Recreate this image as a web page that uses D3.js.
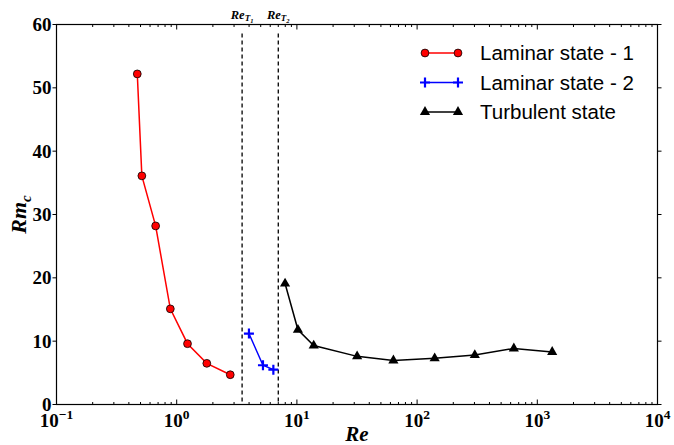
<!DOCTYPE html>
<html>
<head>
<meta charset="utf-8">
<script src="https://cdn.jsdelivr.net/npm/d3@7"></script>
<style>
  body { margin: 0; background: #fff; }
  .tick-label { font-family: "Liberation Serif", "DejaVu Serif", serif; font-weight: bold; fill: #000; }
  .legend-text { font-family: "Liberation Sans", Arial, sans-serif; font-size: 20.5px; fill: #000; }
</style>
</head>
<body>
<div id="chart"></div>
<script>
// data
var lam1Re = [0.47, 0.513, 0.668, 0.885, 1.23, 1.78, 2.79];
var lam1Rm = [52.2, 36.1, 28.2, 15.1, 9.6, 6.5, 4.7];

var lam2Re = [3.99, 5.22, 6.37];
var lam2Rm = [11.2, 6.2, 5.5];

var turbRe = [7.97, 10.2, 13.8, 31.7, 63.5, 140, 302, 638, 1330];
var turbRm = [19.1, 11.8, 9.3, 7.6, 6.95, 7.3, 7.8, 8.85, 8.3];

var transitions = [{name: "T", sub: "1", re: 3.5}, {name: "T", sub: "2", re: 7.0}];

var yTicks = [0, 10, 20, 30, 40, 50, 60];
var xDecades = [-1, 0, 1, 2, 3, 4];

var svgWidth = 674;
var svgHeight = 445;

var margin = { top: 24.5, right: 16.5, bottom: 40.5, left: 56.5 };
var width = svgWidth - margin.left - margin.right;
var height = svgHeight - margin.top - margin.bottom;

var svg = d3.select("#chart")
  .append("svg")
  .attr("width", svgWidth)
  .attr("height", svgHeight);

var chartGroup = svg.append("g")
  .attr("transform", `translate(${margin.left}, ${margin.top})`);

var xScale = d3.scaleLog().domain([0.1, 10000]).range([0, width]);
var yScale = d3.scaleLinear().domain([0, 60]).range([height, 0]);

// minor ticks for log axis
var minorTicks = [];
for (var e = -1; e < 4; e++) {
  for (var m = 2; m <= 9; m++) minorTicks.push(m * Math.pow(10, e));
}
var majorTicks = xDecades.map(d => Math.pow(10, d));

// x ticks (inside, bottom and top)
[height, 0].forEach(function(yPos) {
  var dir = yPos === 0 ? 1 : -1;
  chartGroup.append("g").selectAll("line.major")
    .data(majorTicks)
    .enter().append("line")
    .attr("x1", d => xScale(d)).attr("x2", d => xScale(d))
    .attr("y1", yPos).attr("y2", yPos + dir * 5)
    .attr("stroke", "#000").attr("stroke-width", 1);
  chartGroup.append("g").selectAll("line.minor")
    .data(minorTicks)
    .enter().append("line")
    .attr("x1", d => xScale(d)).attr("x2", d => xScale(d))
    .attr("y1", yPos).attr("y2", yPos + dir * 2.5)
    .attr("stroke", "#000").attr("stroke-width", 1);
});

// y ticks (outside, left and right)
[0, width].forEach(function(xPos) {
  var dir = xPos === 0 ? -1 : 1;
  chartGroup.append("g").selectAll("line")
    .data(yTicks)
    .enter().append("line")
    .attr("x1", xPos).attr("x2", xPos + dir * 4)
    .attr("y1", d => yScale(d)).attr("y2", d => yScale(d))
    .attr("stroke", "#000").attr("stroke-width", 1);
});

// frame
chartGroup.append("rect")
  .attr("width", width).attr("height", height)
  .attr("fill", "none").attr("stroke", "#000").attr("stroke-width", 1.2);

// y tick labels
chartGroup.append("g").selectAll("text")
  .data(yTicks)
  .enter().append("text")
  .attr("class", "tick-label")
  .attr("x", -5)
  .attr("y", d => yScale(d))
  .attr("dy", "0.35em")
  .attr("text-anchor", "end")
  .style("font-size", "19px")
  .text(d => d);

// x tick labels 10^n
var xLabels = chartGroup.append("g").selectAll("text")
  .data(xDecades)
  .enter().append("text")
  .attr("class", "tick-label")
  .attr("x", d => xScale(Math.pow(10, d)))
  .attr("y", height + 22)
  .attr("text-anchor", "middle")
  .style("font-size", "19px");
xLabels.append("tspan").text("10");
xLabels.append("tspan")
  .attr("dy", -8)
  .style("font-size", "13.5px")
  .text(d => d < 0 ? "\u2212" + Math.abs(d) : d);

// axis titles
chartGroup.append("text")
  .attr("class", "tick-label")
  .attr("x", xScale(10) + (xScale(100) - xScale(10)) / 2)
  .attr("y", height + 36)
  .attr("text-anchor", "middle")
  .style("font-size", "21px")
  .style("font-style", "italic")
  .text("Re");

var yTitle = chartGroup.append("text")
  .attr("class", "tick-label")
  .attr("transform", `translate(${-31}, ${height / 2}) rotate(-90)`)
  .attr("text-anchor", "middle")
  .style("font-size", "22px")
  .style("font-style", "italic");
yTitle.append("tspan").text("Rm");
yTitle.append("tspan").attr("dy", 5).style("font-size", "15px").text("c");

// transition lines
chartGroup.append("g").selectAll("line")
  .data(transitions)
  .enter().append("line")
  .attr("x1", d => xScale(d.re)).attr("x2", d => xScale(d.re))
  .attr("y1", 9).attr("y2", height)
  .attr("stroke", "#000").attr("stroke-width", 1.3)
  .attr("stroke-dasharray", "4,3");

var tLabels = chartGroup.append("g").selectAll("text")
  .data(transitions)
  .enter().append("text")
  .attr("class", "tick-label")
  .attr("x", d => xScale(d.re))
  .attr("y", -6)
  .attr("text-anchor", "middle")
  .style("font-size", "12.5px")
  .style("font-style", "italic");
tLabels.append("tspan").text("Re");
tLabels.append("tspan").attr("dy", 2).style("font-size", "9px").text(d => d.name);
tLabels.append("tspan").attr("dy", 2).style("font-size", "6.5px").text(d => d.sub);

// series
var line = d3.line()
  .x(d => xScale(d[0]))
  .y(d => yScale(d[1]));

var lam1 = d3.zip(lam1Re, lam1Rm);
var lam2 = d3.zip(lam2Re, lam2Rm);
var turb = d3.zip(turbRe, turbRm);

chartGroup.append("path").datum(lam1)
  .attr("d", line).attr("fill", "none").attr("stroke", "red").attr("stroke-width", 1.5);
chartGroup.append("path").datum(lam2)
  .attr("d", line).attr("fill", "none").attr("stroke", "blue").attr("stroke-width", 1.5);
chartGroup.append("path").datum(turb)
  .attr("d", line).attr("fill", "none").attr("stroke", "#000").attr("stroke-width", 1.5);

var circleSym = d3.symbol().type(d3.symbolCircle).size(48);
var plusSym = "M-5,0H5M0,-5V5";
var triSym = d3.symbol().type(d3.symbolTriangle).size(45);

chartGroup.append("g").selectAll("path")
  .data(lam1).enter().append("path")
  .attr("transform", d => `translate(${xScale(d[0])},${yScale(d[1])})`)
  .attr("d", circleSym)
  .attr("fill", "red").attr("stroke", "#000").attr("stroke-width", 0.8);

chartGroup.append("g").selectAll("path")
  .data(lam2).enter().append("path")
  .attr("transform", d => `translate(${xScale(d[0])},${yScale(d[1])})`)
  .attr("d", plusSym)
  .attr("fill", "none").attr("stroke", "blue").attr("stroke-width", 2.2);

chartGroup.append("g").selectAll("path")
  .data(turb).enter().append("path")
  .attr("transform", d => `translate(${xScale(d[0])},${yScale(d[1])})`)
  .attr("d", triSym)
  .attr("fill", "#000");

// legend
var legendItems = [
  { label: "Laminar state - 1", color: "red", marker: "circle" },
  { label: "Laminar state - 2", color: "blue", marker: "plus" },
  { label: "Turbulent state", color: "#000", marker: "tri" }
];

var legend = svg.append("g").attr("transform", "translate(425, 53)");
legendItems.forEach(function(item, i) {
  var g = legend.append("g").attr("transform", `translate(0, ${i * 29.5})`);
  g.append("line").attr("x1", 0).attr("x2", 33).attr("y1", 0).attr("y2", 0)
    .attr("stroke", item.color).attr("stroke-width", 1.5);
  [0, 33].forEach(function(px) {
    var p = g.append("path").attr("transform", `translate(${px},0)`);
    if (item.marker === "circle") {
      p.attr("d", circleSym).attr("fill", "red").attr("stroke", "#000").attr("stroke-width", 0.8);
    } else if (item.marker === "plus") {
      p.attr("d", plusSym).attr("fill", "none").attr("stroke", "blue").attr("stroke-width", 2.2);
    } else {
      p.attr("d", triSym).attr("fill", "#000");
    }
  });
  g.append("text").attr("class", "legend-text")
    .attr("x", 55).attr("y", 0).attr("dy", "0.35em")
    .text(item.label);
});
</script>
</body>
</html>
